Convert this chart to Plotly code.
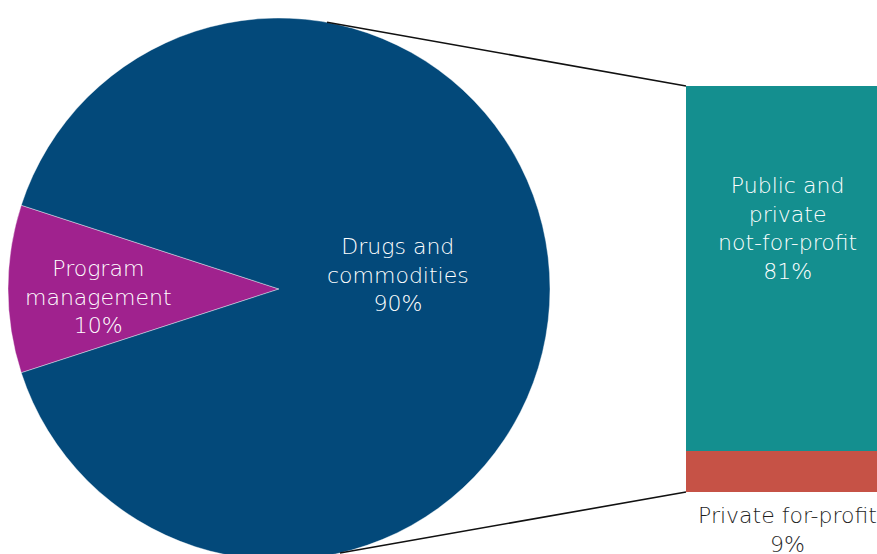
import math
import plotly.graph_objects as go

# Spending split (pie) and breakdown of the drug share (stacked bar)
pie_labels = ["Program<br>management", "Drugs and<br>commodities"]
pie_values = [10, 90]
pie_colors = ["#A0228E", "#03497A"]

bar_labels = ["Private for-profit", "Public and<br>private<br>not-for-profit"]
bar_values = [9, 81]
bar_colors = ["#C65246", "#148F8F"]

W, H = 877, 578          # canvas (bottom rows fall outside the window)
FONT = "'DejaVu Sans', 'Open Sans', sans-serif"
FSIZE = 22
FWEIGHT = 200

# pixel helpers -> paper coordinates
def px(x):
    return x / W

def py(y):
    return (H - y) / H

# pie geometry in pixels
cx, cy, r = 279, 289, 271

fig = go.Figure()

fig.add_trace(go.Pie(
    labels=pie_labels,
    values=pie_values,
    marker=dict(colors=pie_colors, line=dict(color="white", width=0.4)),
    sort=False,
    direction="clockwise",
    rotation=252,
    textinfo="none",
    hoverinfo="label+percent",
    showlegend=False,
    domain=dict(x=[px(cx - r), px(cx + r)], y=[py(cy + r), py(cy - r)]),
))

# stacked bar: bottom of the stack at y=492px, top (total) at y=86px
total = sum(bar_values)
bar_top_px, bar_bot_px = 86, 492
span = total * H / (bar_bot_px - bar_top_px)
y0 = -span * (H - bar_bot_px) / H
yrange = [y0, y0 + span]

for lab, val, col in zip(bar_labels, bar_values, bar_colors):
    fig.add_trace(go.Bar(
        x=[0.5], y=[val], width=[1.0],
        marker=dict(color=col, line=dict(width=0)),
        name=lab.replace("<br>", " "),
        showlegend=False,
        xaxis="x", yaxis="y",
        hoverinfo="name+y",
    ))

light = dict(family=FONT, size=FSIZE, color="#FFFFFF", weight=FWEIGHT)
dark = dict(family=FONT, size=FSIZE, color="#1E1E1E", weight=FWEIGHT)
centred = dict(showarrow=False, align="center", xanchor="center", yanchor="middle")

annotations = [
    # pie labels
    dict(x=px(98), y=py(297), xref="paper", yref="paper",
         text=f"{pie_labels[0]}<br>{pie_values[0]}%", font=light, **centred),
    dict(x=px(398), y=py(275), xref="paper", yref="paper",
         text=f"{pie_labels[1]}<br>{pie_values[1]}%", font=light, **centred),
    # bar labels
    dict(x=0.5, y=58.5, xref="x", yref="y",
         text=f"{bar_labels[1]}<br>{bar_values[1]}%", font=light, **centred),
    dict(x=0.5, y=-8.4, xref="x", yref="y",
         text=f"{bar_labels[0]}<br>{bar_values[0]}%", font=dark, **centred),
]

# connector lines from the drug slice edge to the bar corners
def circle_pt(deg_cw_from_top):
    a = math.radians(deg_cw_from_top)
    return cx + r * math.sin(a), cy - r * math.cos(a)

tx, ty = circle_pt(10.2)
bx, by = circle_pt(167)
bar_left_px = 686
shapes = [
    dict(type="line", xref="paper", yref="paper",
         x0=px(tx), y0=py(ty), x1=px(bar_left_px), y1=py(bar_top_px),
         line=dict(color="#111111", width=1.6)),
    dict(type="line", xref="paper", yref="paper",
         x0=px(bx), y0=py(by), x1=px(bar_left_px), y1=py(bar_bot_px),
         line=dict(color="#111111", width=1.6)),
]

bar_w_px = 202
fig.update_layout(
    width=W, height=H,
    margin=dict(l=0, r=0, t=0, b=0),
    paper_bgcolor="white", plot_bgcolor="white",
    barmode="stack",
    xaxis=dict(domain=[px(bar_left_px), 1], range=[0, (W - bar_left_px) / bar_w_px],
               visible=False, fixedrange=True),
    yaxis=dict(domain=[0, 1], range=yrange, visible=False, fixedrange=True),
    annotations=annotations,
    shapes=shapes,
    font=dict(family=FONT),
)

fig.write_html(
    "out.html",
    post_script="document.documentElement.style.overflow='hidden';"
                "document.body.style.overflow='hidden';",
)
